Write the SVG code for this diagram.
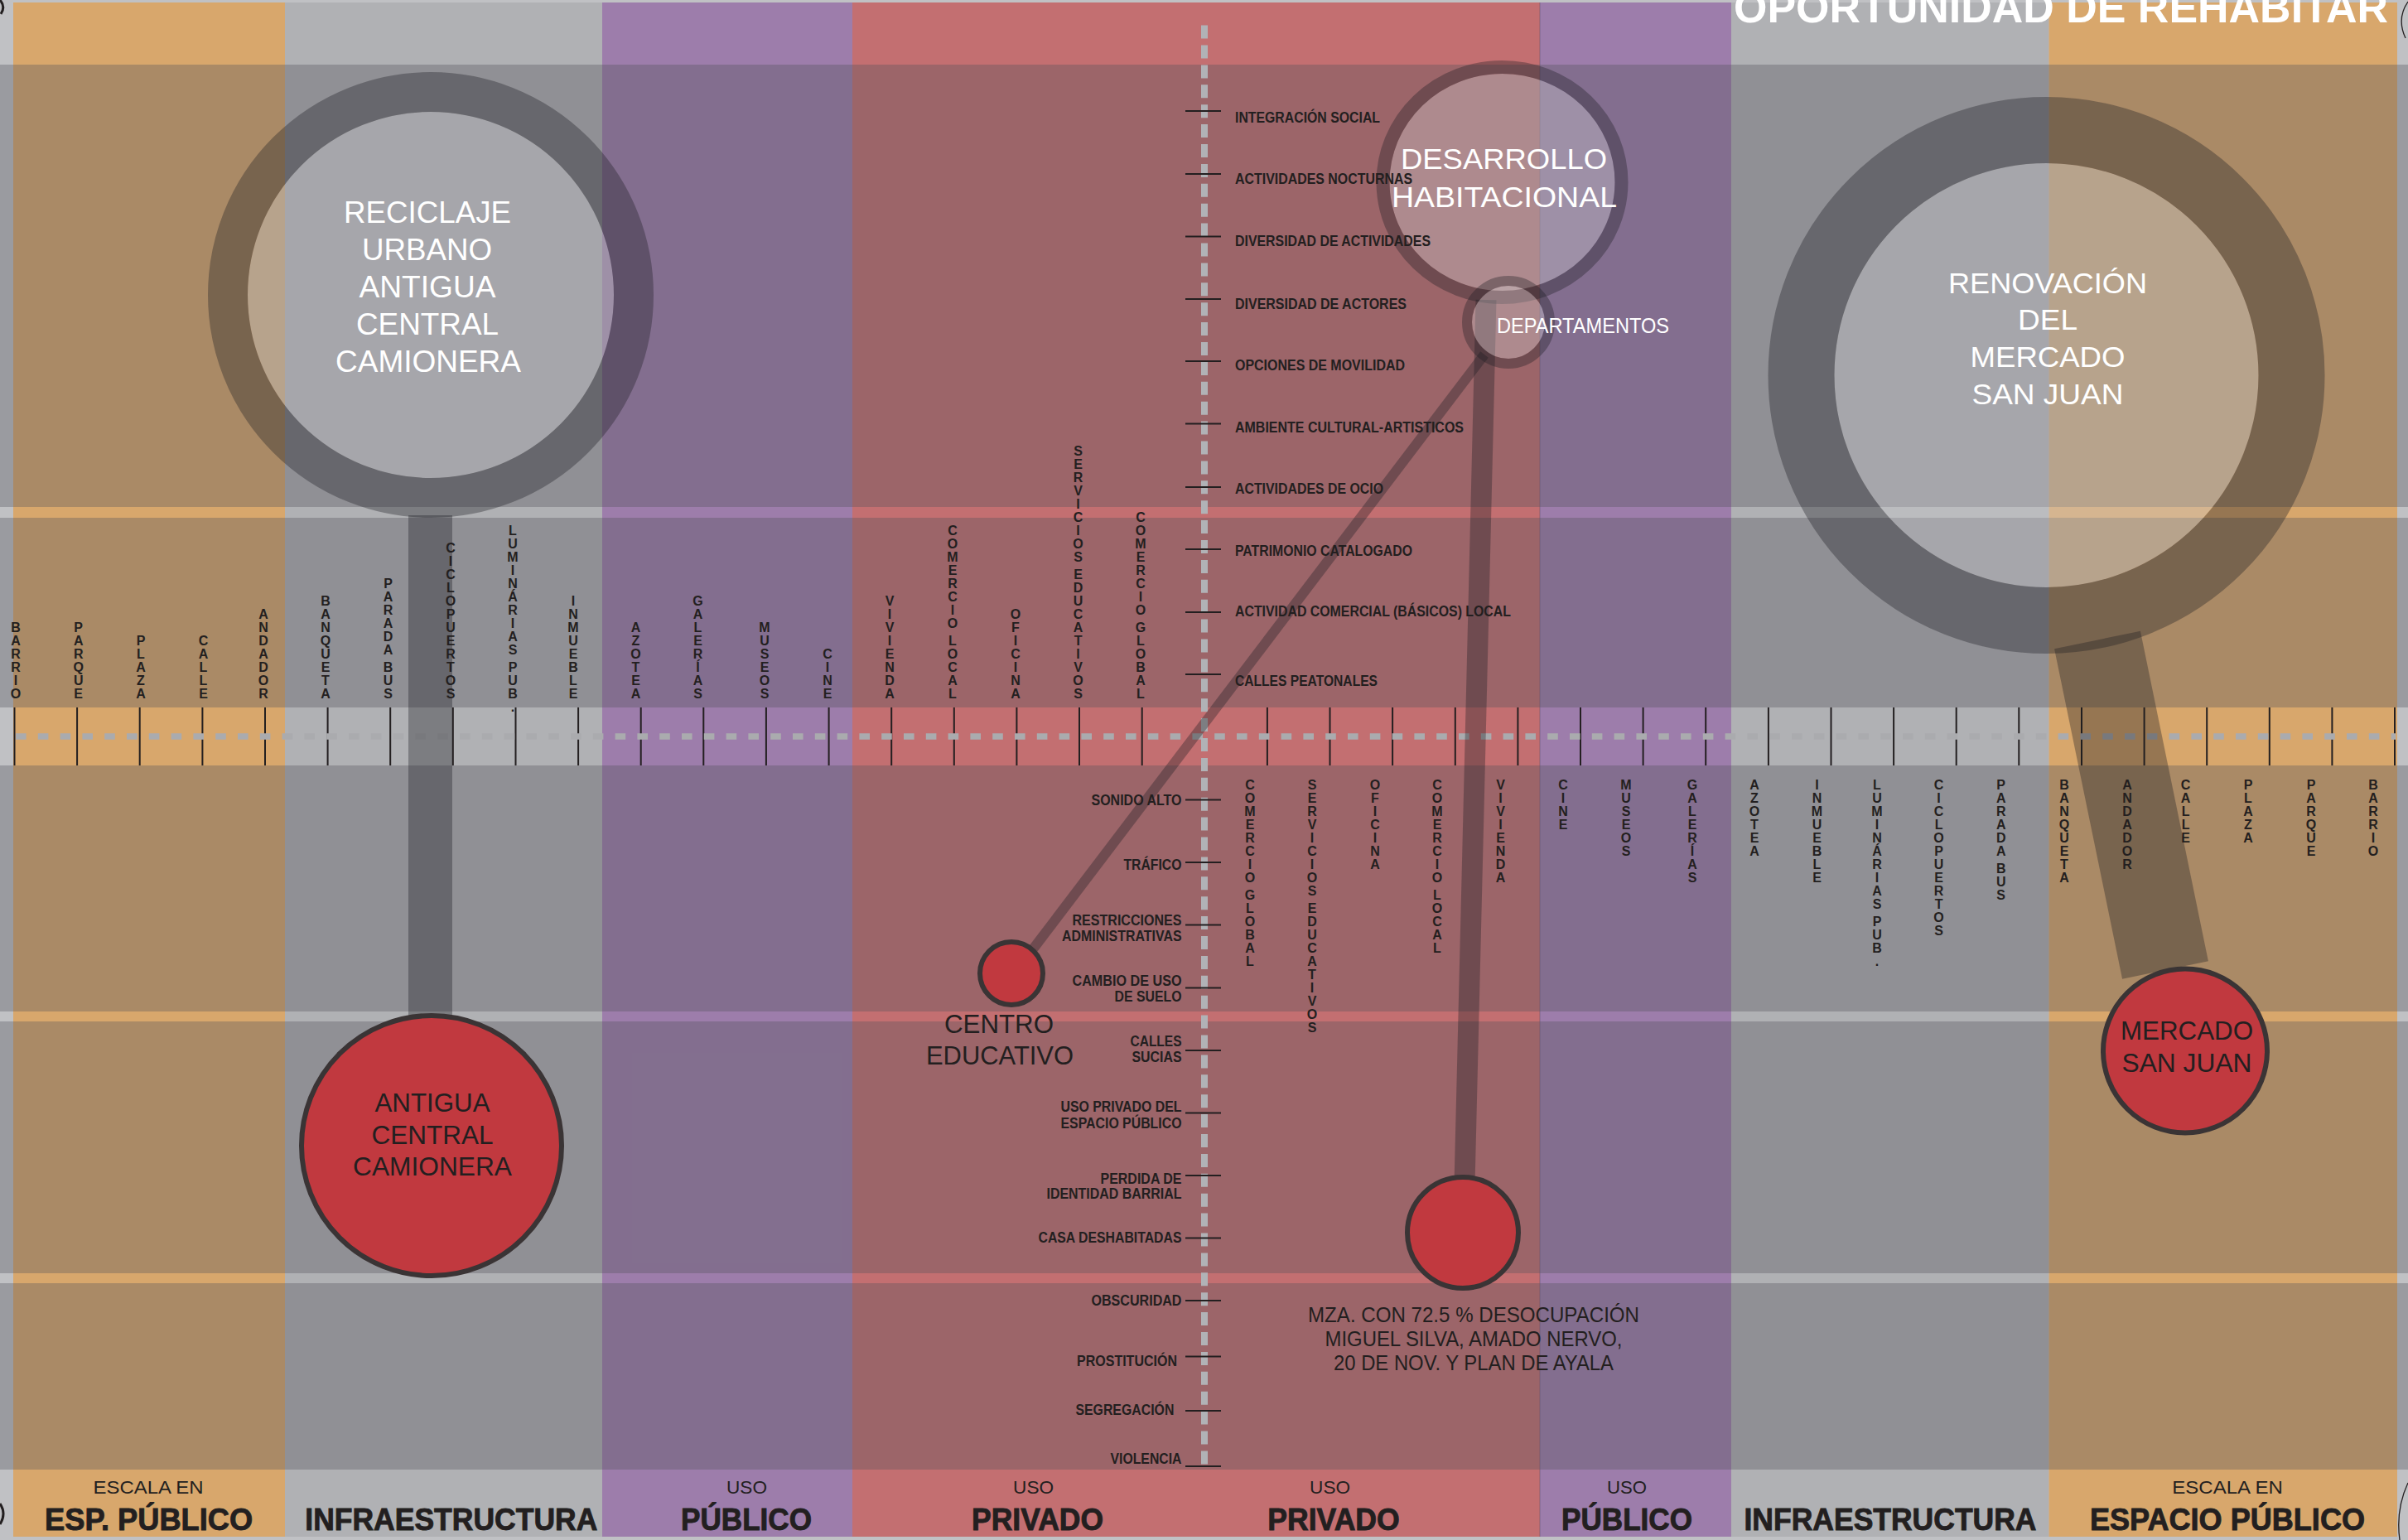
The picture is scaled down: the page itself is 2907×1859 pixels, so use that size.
<svg xmlns="http://www.w3.org/2000/svg" width="2907" height="1859" viewBox="0 0 2907 1859">
<style>
text{font-family:"Liberation Sans Narrow","Liberation Sans",Arial,sans-serif;fill:#231f20}
.vl{font-family:"Liberation Sans",Arial,sans-serif;font-size:16px;font-weight:bold;text-anchor:middle}
.hl{font-size:18px;font-weight:bold}
.hr{font-size:18px;font-weight:bold;text-anchor:end}
.wt{fill:#fff;text-anchor:middle}
.dk{text-anchor:middle}
.ring{fill:none;stroke:#1e1e22;stroke-opacity:.35}
.inner{fill:#d0d1d3;fill-opacity:.35}
.conn{stroke:#1e1e22;stroke-opacity:.35;fill:none}
.red{fill:#c1393f;stroke:#3a3435;stroke-width:6}
.ov{fill:#51535a;fill-opacity:.34}
.tk{stroke:#231f20;stroke-width:2;fill:none}
.c1{font-size:22px;text-anchor:middle}
.c2{font-size:37px;font-weight:bold;text-anchor:middle;stroke:#231f20;stroke-width:0.9}
.arc{fill:none;stroke:#231f20}
</style>
<g id="background">
<rect x="0" y="0" width="2907" height="1859" fill="#c0c1c4"/>
<rect x="16" y="3" width="328" height="1852" fill="#d8a76c"/>
<rect x="344" y="3" width="383" height="1852" fill="#b0b1b4"/>
<rect x="727" y="3" width="302" height="1852" fill="#9d7dab"/>
<rect x="1029" y="3" width="830" height="1852" fill="#c36f71"/>
<rect x="1859" y="3" width="231" height="1852" fill="#9d7dab"/>
<rect x="2090" y="3" width="383.5" height="1852" fill="#b0b1b4"/>
<rect x="2473.5" y="3" width="420.5" height="1852" fill="#d8a76c"/>
<rect class="ov" x="0" y="78" width="2907" height="534"/>
<rect class="ov" x="0" y="625" width="2907" height="229"/>
<rect class="ov" x="0" y="924" width="2907" height="297"/>
<rect class="ov" x="0" y="1233" width="2907" height="304"/>
<rect class="ov" x="0" y="1549" width="2907" height="225"/>
<line x1="1859" y1="3" x2="1859" y2="1855" stroke="#5e4f6b" stroke-opacity=".5" stroke-width="1"/>
<path class="arc" stroke-width="3" d="M0,0 Q7,8 1,17"/>
<path class="arc" stroke-width="3" d="M0,1815 Q8,1827 0,1840"/>
<path class="arc" stroke-width="1.3" d="M2907,2 Q2893,22 2904,46"/>
<path class="arc" stroke-width="1.3" d="M2907,1790 Q2892,1822 2897,1859"/>
</g>
<g id="axes">
<path class="tk" d="M17.5 854V924M93.1 854V924M168.7 854V924M244.4 854V924M320 854V924M395.6 854V924M471.2 854V924M546.8 854V924M622.5 854V924M698.1 854V924M773.7 854V924M849.3 854V924M924.9 854V924M1000.6 854V924M1076.2 854V924M1151.8 854V924M1227.4 854V924M1303 854V924M1378.7 854V924M1529.9 854V924M1605.5 854V924M1681.1 854V924M1756.8 854V924M1832.4 854V924M1908 854V924M1983.6 854V924M2059.2 854V924M2134.9 854V924M2210.5 854V924M2286.1 854V924M2361.7 854V924M2437.3 854V924M2513 854V924M2588.6 854V924M2664.2 854V924M2739.8 854V924M2815.4 854V924M2891 854V924"/>
<line x1="19" y1="889" x2="2892" y2="889" stroke="#aaabae" stroke-width="7.5" stroke-dasharray="12.6 14.2"/>
<line x1="1454" y1="30.6" x2="1454" y2="1773" stroke="#b1b2b6" stroke-width="8" stroke-dasharray="16 7.9"/>
<path class="tk" d="M1431 134H1474M1431 210H1474M1431 285.5H1474M1431 361H1474M1431 436H1474M1431 511.5H1474M1431 588H1474M1431 663H1474M1431 739H1474M1431 814H1474M1431 965.5H1474M1431 1041H1474M1431 1116.5H1474M1431 1192.5H1474M1431 1268H1474M1431 1343.5H1474M1431 1419H1474M1431 1494.5H1474M1431 1570H1474M1431 1637.5H1474M1431 1703H1474M1431 1770H1474"/>
</g>
<g id="connectors">
<line class="conn" x1="519.5" y1="622" x2="519.5" y2="1228" stroke-width="53"/>
<line class="conn" x1="2532" y1="772.5" x2="2614" y2="1171" stroke-width="106"/>
<line class="conn" x1="1794" y1="362" x2="1768" y2="1430" stroke-width="25"/>
<line class="conn" x1="1792" y1="428" x2="1240" y2="1155" stroke-width="12"/>
</g>
<g id="node-reciclaje">
<circle class="inner" cx="520" cy="356" r="221"/>
<circle class="ring" cx="520" cy="356" r="245" stroke-width="48"/>
<g font-size="37">
<text class="wt" x="516" y="269" textLength="202" lengthAdjust="spacingAndGlyphs">RECICLAJE</text>
<text class="wt" x="515.5" y="314" textLength="157" lengthAdjust="spacingAndGlyphs">URBANO</text>
<text class="wt" x="516" y="359" textLength="165" lengthAdjust="spacingAndGlyphs">ANTIGUA</text>
<text class="wt" x="516" y="404" textLength="172" lengthAdjust="spacingAndGlyphs">CENTRAL</text>
<text class="wt" x="517" y="449" textLength="224" lengthAdjust="spacingAndGlyphs">CAMIONERA</text>
</g>
</g>
<g id="node-antigua-central">
<circle class="red" cx="521" cy="1383" r="157"/>
<g font-size="31">
<text class="dk" x="522" y="1342" textLength="139" lengthAdjust="spacingAndGlyphs">ANTIGUA</text>
<text class="dk" x="522" y="1381" textLength="147" lengthAdjust="spacingAndGlyphs">CENTRAL</text>
<text class="dk" x="522" y="1419" textLength="192" lengthAdjust="spacingAndGlyphs">CAMIONERA</text>
</g>
</g>
<g id="node-desarrollo">
<ellipse class="inner" cx="1813.5" cy="220" rx="136" ry="131"/>
<ellipse class="ring" cx="1813.5" cy="220" rx="144" ry="139" stroke-width="16"/>
<g font-size="35">
<text class="wt" x="1815.5" y="204" textLength="249" lengthAdjust="spacingAndGlyphs">DESARROLLO</text>
<text class="wt" x="1816" y="250" textLength="272" lengthAdjust="spacingAndGlyphs">HABITACIONAL</text>
</g>
</g>
<g id="node-departamentos">
<circle class="inner" cx="1821" cy="389" r="44"/>
<circle class="ring" cx="1821" cy="389" r="50" stroke-width="12"/>
<text x="1807" y="402" font-size="25" style="fill:#fff" textLength="208" lengthAdjust="spacingAndGlyphs">DEPARTAMENTOS</text>
</g>
<g id="node-centro-educativo">
<circle class="red" cx="1221" cy="1175" r="38" stroke-width="5"/>
<g font-size="31">
<text class="dk" x="1206" y="1247" textLength="132" lengthAdjust="spacingAndGlyphs">CENTRO</text>
<text class="dk" x="1207" y="1285" textLength="178" lengthAdjust="spacingAndGlyphs">EDUCATIVO</text>
</g>
</g>
<g id="node-mza">
<circle class="red" cx="1766" cy="1488" r="67"/>
<g font-size="25">
<text class="dk" x="1779" y="1596" textLength="400" lengthAdjust="spacingAndGlyphs">MZA. CON 72.5 % DESOCUPACIÓN</text>
<text class="dk" x="1779" y="1625" textLength="359" lengthAdjust="spacingAndGlyphs">MIGUEL SILVA, AMADO NERVO,</text>
<text class="dk" x="1779" y="1654" textLength="338" lengthAdjust="spacingAndGlyphs">20 DE NOV. Y PLAN DE AYALA</text>
</g>
</g>
<g id="node-renovacion">
<circle class="inner" cx="2470.5" cy="453" r="256"/>
<circle class="ring" cx="2470.5" cy="453" r="296" stroke-width="80"/>
<g font-size="35">
<text class="wt" x="2472" y="354" textLength="240" lengthAdjust="spacingAndGlyphs">RENOVACIÓN</text>
<text class="wt" x="2472" y="398" textLength="72" lengthAdjust="spacingAndGlyphs">DEL</text>
<text class="wt" x="2472" y="443" textLength="187" lengthAdjust="spacingAndGlyphs">MERCADO</text>
<text class="wt" x="2472" y="488" textLength="183" lengthAdjust="spacingAndGlyphs">SAN JUAN</text>
</g>
</g>
<g id="node-mercado">
<circle class="red" cx="2638" cy="1268.5" r="99"/>
<g font-size="32">
<text class="dk" x="2640" y="1255" textLength="160" lengthAdjust="spacingAndGlyphs">MERCADO</text>
<text class="dk" x="2640" y="1294" textLength="157" lengthAdjust="spacingAndGlyphs">SAN JUAN</text>
</g>
</g>
<g id="axis-labels-right">
<text class="hl" x="1491" y="148" textLength="175" lengthAdjust="spacingAndGlyphs">INTEGRACIÓN SOCIAL</text>
<text class="hl" x="1491" y="222" textLength="214" lengthAdjust="spacingAndGlyphs">ACTIVIDADES NOCTURNAS</text>
<text class="hl" x="1491" y="297" textLength="236" lengthAdjust="spacingAndGlyphs">DIVERSIDAD DE ACTIVIDADES</text>
<text class="hl" x="1491" y="373" textLength="207" lengthAdjust="spacingAndGlyphs">DIVERSIDAD DE ACTORES</text>
<text class="hl" x="1491" y="447" textLength="205" lengthAdjust="spacingAndGlyphs">OPCIONES DE MOVILIDAD</text>
<text class="hl" x="1491" y="522" textLength="276" lengthAdjust="spacingAndGlyphs">AMBIENTE CULTURAL-ARTISTICOS</text>
<text class="hl" x="1491" y="596" textLength="179" lengthAdjust="spacingAndGlyphs">ACTIVIDADES DE OCIO</text>
<text class="hl" x="1491" y="671" textLength="214" lengthAdjust="spacingAndGlyphs">PATRIMONIO CATALOGADO</text>
<text class="hl" x="1491" y="744" textLength="333" lengthAdjust="spacingAndGlyphs">ACTIVIDAD COMERCIAL (BÁSICOS) LOCAL</text>
<text class="hl" x="1491" y="828" textLength="172" lengthAdjust="spacingAndGlyphs">CALLES PEATONALES</text>
</g>
<g id="axis-labels-left">
<text class="hr" x="1426.5" y="972" textLength="109" lengthAdjust="spacingAndGlyphs">SONIDO ALTO</text>
<text class="hr" x="1426.5" y="1050" textLength="70" lengthAdjust="spacingAndGlyphs">TRÁFICO</text>
<text class="hr" x="1426.5" y="1116.5" textLength="132" lengthAdjust="spacingAndGlyphs">RESTRICCIONES</text>
<text class="hr" x="1426.5" y="1136" textLength="144.5" lengthAdjust="spacingAndGlyphs">ADMINISTRATIVAS</text>
<text class="hr" x="1426.5" y="1190" textLength="132" lengthAdjust="spacingAndGlyphs">CAMBIO DE USO</text>
<text class="hr" x="1426.5" y="1209" textLength="81" lengthAdjust="spacingAndGlyphs">DE SUELO</text>
<text class="hr" x="1426.5" y="1263" textLength="62" lengthAdjust="spacingAndGlyphs">CALLES</text>
<text class="hr" x="1426.5" y="1282" textLength="60" lengthAdjust="spacingAndGlyphs">SUCIAS</text>
<text class="hr" x="1426.5" y="1342" textLength="146" lengthAdjust="spacingAndGlyphs">USO PRIVADO DEL</text>
<text class="hr" x="1426.5" y="1361.5" textLength="146" lengthAdjust="spacingAndGlyphs">ESPACIO PÚBLICO</text>
<text class="hr" x="1426.5" y="1428.6" textLength="98" lengthAdjust="spacingAndGlyphs">PERDIDA DE</text>
<text class="hr" x="1426.5" y="1447" textLength="163" lengthAdjust="spacingAndGlyphs">IDENTIDAD BARRIAL</text>
<text class="hr" x="1426.5" y="1500" textLength="173" lengthAdjust="spacingAndGlyphs">CASA DESHABITADAS</text>
<text class="hr" x="1426.5" y="1576" textLength="109" lengthAdjust="spacingAndGlyphs">OBSCURIDAD</text>
<text class="hr" x="1421" y="1649" textLength="121" lengthAdjust="spacingAndGlyphs">PROSTITUCIÓN</text>
<text class="hr" x="1417.4" y="1708" textLength="119" lengthAdjust="spacingAndGlyphs">SEGREGACIÓN</text>
<text class="hr" x="1426.5" y="1767" textLength="86" lengthAdjust="spacingAndGlyphs">VIOLENCIA</text>
</g>
<g id="labels-top">
<text class="vl" x="19 19 19 19 19 19" y="763 779 795 811 827 843">BARRIO</text>
<text class="vl" x="94.7 94.7 94.7 94.7 94.7 94.7" y="763 779 795 811 827 843">PARQUE</text>
<text class="vl" x="170 170 170 170 170" y="779 795 811 827 843">PLAZA</text>
<text class="vl" x="245.5 245.5 245.5 245.5 245.5" y="779 795 811 827 843">CALLE</text>
<text class="vl" x="318 318 318 318 318 318 318" y="747 763 779 795 811 827 843">ANDADOR</text>
<text class="vl" x="393 393 393 393 393 393 393 393" y="731 747 763 779 795 811 827 843">BANQUETA</text>
<text class="vl" x="468.6 468.6 468.6 468.6 468.6 468.6 468.6 468.6 468.6" y="710 726 742 758 774 790 811 827 843">PARADABUS</text>
<text class="vl" x="544 544 544 544 544 544 544 544 544 544 544 544" y="667 683 699 715 731 747 763 779 795 811 827 843">CICLOPUERTOS</text>
<text class="vl" x="619 619 619 619 619 619 619 619 619 619 619 619 619 619" y="646 662 678 694 710 726 742 758 774 790 811 827 843 859">LUMINÁRIASPUB.</text>
<text class="vl" x="692 692 692 692 692 692 692 692" y="731 747 763 779 795 811 827 843">INMUEBLE</text>
<text class="vl" x="767.5 767.5 767.5 767.5 767.5 767.5" y="763 779 795 811 827 843">AZOTEA</text>
<text class="vl" x="842.5 842.5 842.5 842.5 842.5 842.5 842.5 842.5" y="731 747 763 779 795 811 827 843">GALERÍAS</text>
<text class="vl" x="923 923 923 923 923 923" y="763 779 795 811 827 843">MUSEOS</text>
<text class="vl" x="999 999 999 999" y="795 811 827 843">CINE</text>
<text class="vl" x="1074 1074 1074 1074 1074 1074 1074 1074" y="731 747 763 779 795 811 827 843">VIVIENDA</text>
<text class="vl" x="1150 1150 1150 1150 1150 1150 1150 1150 1150 1150 1150 1150 1150" y="646 662 678 694 710 726 742 758 779 795 811 827 843">COMERCIOLOCAL</text>
<text class="vl" x="1226 1226 1226 1226 1226 1226 1226" y="747 763 779 795 811 827 843">OFICINA</text>
<text class="vl" x="1301.6 1301.6 1301.6 1301.6 1301.6 1301.6 1301.6 1301.6 1301.6 1301.6 1301.6 1301.6 1301.6 1301.6 1301.6 1301.6 1301.6 1301.6 1301.6" y="550 566 582 598 614 630 646 662 678 699 715 731 747 763 779 795 811 827 843">SERVICIOSEDUCATIVOS</text>
<text class="vl" x="1377 1377 1377 1377 1377 1377 1377 1377 1377 1377 1377 1377 1377 1377" y="630 646 662 678 694 710 726 742 763 779 795 811 827 843">COMERCIOGLOBAL</text>
</g>
<g id="labels-bottom">
<text class="vl" x="1509 1509 1509 1509 1509 1509 1509 1509 1509 1509 1509 1509 1509 1509" y="953 969 985 1001 1017 1033 1049 1065 1086 1102 1118 1134 1150 1166">COMERCIOGLOBAL</text>
<text class="vl" x="1584 1584 1584 1584 1584 1584 1584 1584 1584 1584 1584 1584 1584 1584 1584 1584 1584 1584 1584" y="953 969 985 1001 1017 1033 1049 1065 1081 1102 1118 1134 1150 1166 1182 1198 1214 1230 1246">SERVICIOSEDUCATIVOS</text>
<text class="vl" x="1660 1660 1660 1660 1660 1660 1660" y="953 969 985 1001 1017 1033 1049">OFICINA</text>
<text class="vl" x="1735 1735 1735 1735 1735 1735 1735 1735 1735 1735 1735 1735 1735" y="953 969 985 1001 1017 1033 1049 1065 1086 1102 1118 1134 1150">COMERCIOLOCAL</text>
<text class="vl" x="1811.6 1811.6 1811.6 1811.6 1811.6 1811.6 1811.6 1811.6" y="953 969 985 1001 1017 1033 1049 1065">VIVIENDA</text>
<text class="vl" x="1887 1887 1887 1887" y="953 969 985 1001">CINE</text>
<text class="vl" x="1963 1963 1963 1963 1963 1963" y="953 969 985 1001 1017 1033">MUSEOS</text>
<text class="vl" x="2043 2043 2043 2043 2043 2043 2043 2043" y="953 969 985 1001 1017 1033 1049 1065">GALERÍAS</text>
<text class="vl" x="2118 2118 2118 2118 2118 2118" y="953 969 985 1001 1017 1033">AZOTEA</text>
<text class="vl" x="2193.5 2193.5 2193.5 2193.5 2193.5 2193.5 2193.5 2193.5" y="953 969 985 1001 1017 1033 1049 1065">INMUEBLE</text>
<text class="vl" x="2266 2266 2266 2266 2266 2266 2266 2266 2266 2266 2266 2266 2266 2266" y="953 969 985 1001 1017 1033 1049 1065 1081 1097 1118 1134 1150 1166">LUMINÁRIASPUB.</text>
<text class="vl" x="2340.6 2340.6 2340.6 2340.6 2340.6 2340.6 2340.6 2340.6 2340.6 2340.6 2340.6 2340.6" y="953 969 985 1001 1017 1033 1049 1065 1081 1097 1113 1129">CICLOPUERTOS</text>
<text class="vl" x="2415.7 2415.7 2415.7 2415.7 2415.7 2415.7 2415.7 2415.7 2415.7" y="953 969 985 1001 1017 1033 1054 1070 1086">PARADABUS</text>
<text class="vl" x="2492 2492 2492 2492 2492 2492 2492 2492" y="953 969 985 1001 1017 1033 1049 1065">BANQUETA</text>
<text class="vl" x="2568 2568 2568 2568 2568 2568 2568" y="953 969 985 1001 1017 1033 1049">ANDADOR</text>
<text class="vl" x="2638.6 2638.6 2638.6 2638.6 2638.6" y="953 969 985 1001 1017">CALLE</text>
<text class="vl" x="2714 2714 2714 2714 2714" y="953 969 985 1001 1017">PLAZA</text>
<text class="vl" x="2790 2790 2790 2790 2790 2790" y="953 969 985 1001 1017 1033">PARQUE</text>
<text class="vl" x="2865 2865 2865 2865 2865 2865" y="953 969 985 1001 1017 1033">BARRIO</text>
</g>
<g id="categories">
<text class="c1" x="179" y="1803" textLength="133" lengthAdjust="spacingAndGlyphs">ESCALA EN</text>
<text class="c2" x="179.6" y="1847" textLength="251" lengthAdjust="spacingAndGlyphs">ESP. PÚBLICO</text>
<text class="c2" x="544.8" y="1847" textLength="353" lengthAdjust="spacingAndGlyphs">INFRAESTRUCTURA</text>
<text class="c1" x="901.5" y="1803" textLength="49" lengthAdjust="spacingAndGlyphs">USO</text>
<text class="c2" x="901" y="1847" textLength="158" lengthAdjust="spacingAndGlyphs">PÚBLICO</text>
<text class="c1" x="1247.6" y="1803" textLength="49" lengthAdjust="spacingAndGlyphs">USO</text>
<text class="c2" x="1252.6" y="1847" textLength="159" lengthAdjust="spacingAndGlyphs">PRIVADO</text>
<text class="c1" x="1605.6" y="1803" textLength="49" lengthAdjust="spacingAndGlyphs">USO</text>
<text class="c2" x="1610" y="1847" textLength="159.6" lengthAdjust="spacingAndGlyphs">PRIVADO</text>
<text class="c1" x="1964" y="1803" textLength="48" lengthAdjust="spacingAndGlyphs">USO</text>
<text class="c2" x="1964" y="1847" textLength="158" lengthAdjust="spacingAndGlyphs">PÚBLICO</text>
<text class="c2" x="2282" y="1847" textLength="353" lengthAdjust="spacingAndGlyphs">INFRAESTRUCTURA</text>
<text class="c1" x="2689" y="1803" textLength="133.5" lengthAdjust="spacingAndGlyphs">ESCALA EN</text>
<text class="c2" x="2689" y="1847" textLength="332" lengthAdjust="spacingAndGlyphs">ESPACIO PÚBLICO</text>
</g>
<g id="title">
<text x="2488" y="26.5" font-size="52" font-weight="bold" style="fill:#fff;text-anchor:middle" textLength="790" lengthAdjust="spacingAndGlyphs">OPORTUNIDAD DE REHABITAR</text>
</g>
</svg>
